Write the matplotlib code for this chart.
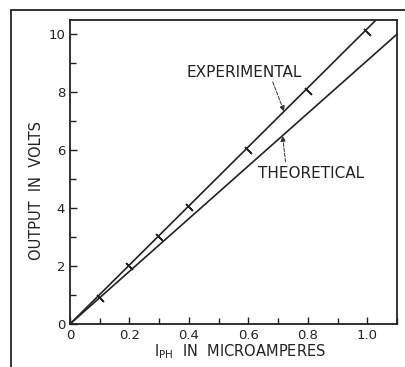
import matplotlib.pyplot as plt
from matplotlib.patches import Rectangle
from matplotlib.ticker import MultipleLocator

# measured points (photocurrent in uA, output in volts)
exp_current = [0.1, 0.2, 0.3, 0.4, 0.6, 0.8, 1.0]
exp_volts = [0.9, 2.0, 3.0, 4.05, 6.0, 8.05, 10.1]
exp_slope = 10.2
theo_slope = 9.1

x_ticks = [0, 0.2, 0.4, 0.6, 0.8, 1.0]
x_labels = ['0', '0.2', '0.4', '0.6', '0.8', '1.0']
y_ticks = [0, 2, 4, 6, 8, 10]

fig = plt.figure(figsize=(4.06, 3.67), dpi=100)
ax = fig.add_axes([70 / 406, 1 - 324 / 367, 327 / 406, 304 / 367])

# outer frame round the whole figure
fig.patches.append(Rectangle((11 / 406, -0.01), 1.0, 1 - 10 / 367 + 0.01,
                             transform=fig.transFigure, fill=False,
                             edgecolor='#222222', linewidth=1.3))

xmax, ymax = 1.1, 10.5
ax.plot([0, ymax / exp_slope], [0, ymax], color='#222222', lw=1.2)
ax.plot([0, xmax], [0, theo_slope * xmax], color='#222222', lw=1.2)
ax.plot(exp_current, exp_volts, linestyle='none', marker=(2, 2, 45),
        markersize=7, color='#222222', markeredgewidth=1.0)

ax.set_xlim(0, xmax)
ax.set_ylim(0, ymax)
ax.set_xticks(x_ticks)
ax.set_xticklabels(x_labels)
ax.set_yticks(y_ticks)
ax.xaxis.set_minor_locator(MultipleLocator(0.1))
ax.yaxis.set_minor_locator(MultipleLocator(1))
ax.tick_params(which='both', direction='in', top=False, right=False,
               labelsize=9.5, colors='#222222', width=1.0)
ax.tick_params(which='major', length=5)
ax.tick_params(which='minor', length=4)
for s in ax.spines.values():
    s.set_linewidth(1.3)
    s.set_color('#222222')

ax.set_xlabel(r'$\mathrm{I}_{\mathrm{PH}}$  IN  MICROAMPERES', fontsize=10.5,
              color='#222222')
ax.xaxis.set_label_coords(0.52, -0.06)
ax.set_ylabel('OUTPUT  IN  VOLTS', fontsize=10.5, color='#222222')
ax.yaxis.set_label_coords(-0.08, 0.44)

arrow = dict(arrowstyle='-|>', linestyle='--', lw=0.7, color='#333333',
             shrinkA=0, shrinkB=0, mutation_scale=8)
ax.text(0.585, 8.7, 'EXPERIMENTAL', fontsize=11, color='#222222',
        ha='center', va='center')
ax.annotate('', xy=(0.72, 7.34), xytext=(0.682, 8.36), arrowprops=arrow)
ax.text(0.81, 5.2, 'THEORETICAL', fontsize=11, color='#222222',
        ha='center', va='center')
ax.annotate('', xy=(0.715, 6.5), xytext=(0.725, 5.6), arrowprops=arrow)

fig.savefig('out.png', dpi=100)
